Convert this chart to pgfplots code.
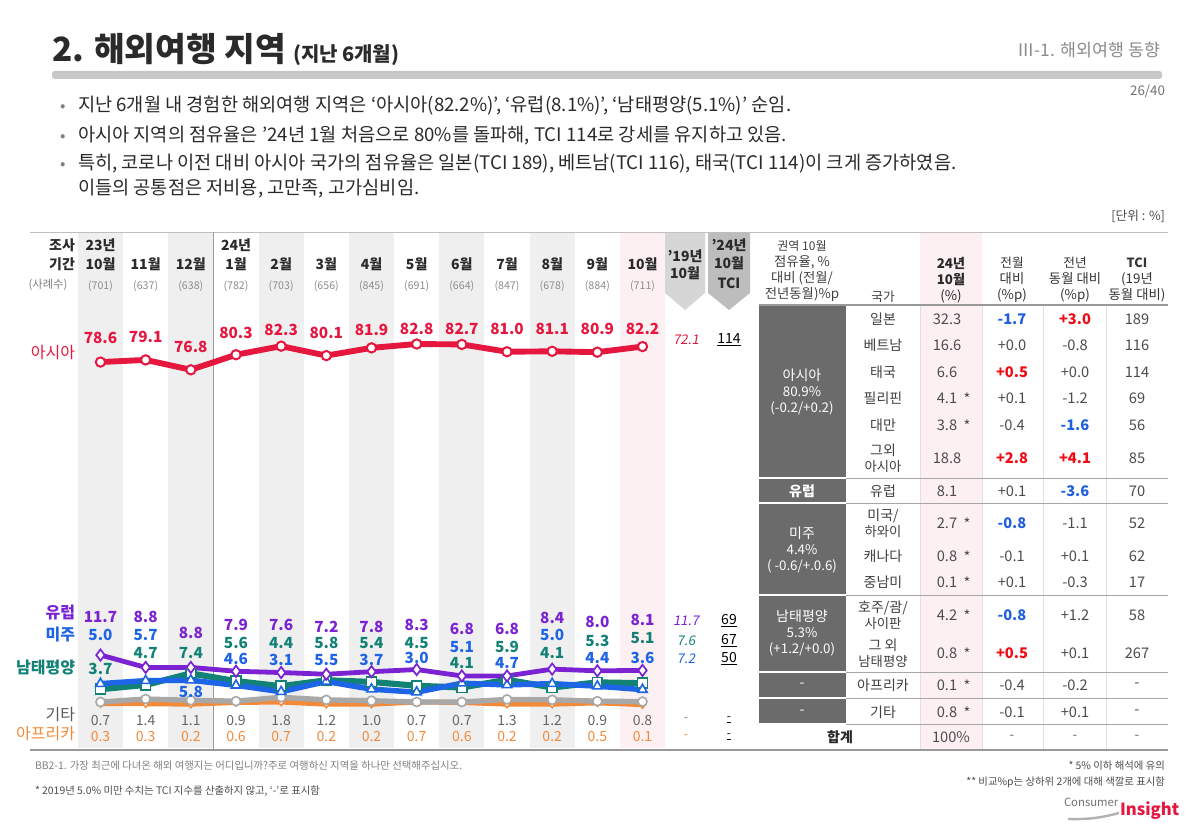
\documentclass[border=0pt]{standalone}
\usepackage{pgfplots}
\usepackage{pgfplotstable}
\pgfplotsset{compat=1.18}
\usepackage{fontspec}
\setmainfont{Noto Sans CJK KR}
\newfontfamily\itfont[FakeSlant=0.18]{Noto Sans CJK KR}
\definecolor{cRed}{HTML}{E5173F}
\definecolor{cP}{HTML}{7B22D3}
\definecolor{cB}{HTML}{1E64E6}
\definecolor{cT}{HTML}{138276}
\definecolor{cG}{HTML}{A8A8A8}
\definecolor{cO}{HTML}{F28A3A}
\definecolor{cTxt}{HTML}{2A2A2A}
\definecolor{cBand}{HTML}{EFEFEF}
\definecolor{cPink}{HTML}{FDF0F3}
\definecolor{cDark}{HTML}{6B6B6B}
\definecolor{tB}{HTML}{1F5FE0}
\definecolor{tR}{HTML}{F00A14}
\newcommand{\fs}[2]{\fontsize{#1}{#2}\selectfont}
\newcommand{\tb}[1]{\textcolor{tB}{\bfseries #1}}
\newcommand{\tr}[1]{\textcolor{tR}{\bfseries #1}}

\pgfplotstableread{
x asia eu am op etc af
0 78.6 11.7 5.0 3.7 0.7 0.3
1 79.1 8.8 5.7 4.7 1.4 0.3
2 76.8 8.8 5.8 7.4 1.1 0.2
3 80.3 7.9 4.6 5.6 0.9 0.6
4 82.3 7.6 3.1 4.4 1.8 0.7
5 80.1 7.2 5.5 5.8 1.2 0.2
6 81.9 7.8 3.7 5.4 1.0 0.2
7 82.8 8.3 3.0 4.5 0.7 0.7
8 82.7 6.8 5.1 4.1 0.7 0.6
9 81.0 6.8 4.7 5.9 1.3 0.2
10 81.1 8.4 5.0 4.1 1.2 0.2
11 80.9 8.0 4.4 5.3 0.9 0.5
12 82.2 8.1 3.6 5.1 0.8 0.1
}\regiondata

% table row: y, name, value, star, d1, d2, tci
\newcommand{\trow}[7]{%
  \node[align=center,text=black!75] at (883,#1) {\fs{10.5}{14}#2};
  \node[text=black!70] at (947,#1) {\fs{11}{13}#3};
  \node[text=black!70] at (967,#1+1) {\fs{11}{13}#4};
  \node[text=black!70] at (1012,#1) {\fs{11}{13}#5};
  \node[text=black!70] at (1075,#1) {\fs{11}{13}#6};
  \node[text=black!70] at (1137,#1) {\fs{11}{13}#7};
}

\begin{document}
\begin{tikzpicture}[x=0.75pt,y=-0.75pt,every node/.style={inner sep=0pt,outer sep=0pt,text=cTxt}]
\useasboundingbox (0,0) rectangle (1200,830);
\fill[white] (0,0) rectangle (1200,830);

% ---------- title ----------
\node[anchor=base west] at (52,62) {\fs{25}{29}\bfseries 2. 해외여행 지역};
\node[anchor=base west] at (293,62) {\fs{15}{18}\bfseries (지난 6개월)};
\node[anchor=base east,text=black!45] at (1160,57) {\fs{13}{15}Ⅲ-1. 해외여행 동향};
\fill[black!22,rounded corners=2pt] (52,71) rectangle (1162,79);
\node[anchor=base east,text=black!55] at (1165,96) {\fs{10}{12}26/40};

% ---------- bullets ----------
\foreach \yy in {112,142,170}
  \node[anchor=base west,text=black!50] at (60,\yy) {\fs{12}{14}•};
\node[anchor=base west] at (78,112) {\fs{14}{16}지난 6개월 내 경험한 해외여행 지역은 ‘아시아(82.2\%)’, ‘유럽(8.1\%)’, ‘남태평양(5.1\%)’ 순임.};
\node[anchor=base west] at (78,142) {\fs{14}{16}아시아 지역의 점유율은 ’24년 1월 처음으로 80\%를 돌파해, TCI 114로 강세를 유지하고 있음.};
\node[anchor=base west] at (78,170) {\fs{14}{16}특히, 코로나 이전 대비 아시아 국가의 점유율은 일본(TCI 189), 베트남(TCI 116), 태국(TCI 114)이 크게 증가하였음.};
\node[anchor=base west] at (78,195) {\fs{14}{16}이들의 공통점은 저비용, 고만족, 고가심비임.};

\node[anchor=base east,text=black!70] at (1165,221) {\fs{9.5}{11}[단위 : \%]};

% ---------- chart background ----------
\foreach \ii in {0,2,4,6,8,10}
  \fill[cBand] ({77.9+45.17*\ii},233) rectangle ({77.9+45.17*(\ii+1)},748);
\fill[cPink] (619.9,233) rectangle (665.1,748);
\draw[black!25] (30,232) -- (1168,232);
\draw[black!40] (213.4,232) -- (213.4,750);
\fill[black!16] (665,233) -- (705,233) -- (705,293) -- (685,310) -- (665,293) -- cycle;
\fill[black!26] (708,233) -- (750,233) -- (750,293) -- (729,310) -- (708,293) -- cycle;

% ---------- chart header ----------
\node at (62,245) {\fs{10.5}{12}\bfseries 조사};
\node at (62,264) {\fs{10.5}{12}\bfseries 기간};
\node[text=black!50] at (48,285) {\fs{8.5}{10}(사례수)};
\node at (100.5,245) {\fs{10.5}{12}\bfseries 23년};
\node at (236,245) {\fs{10.5}{12}\bfseries 24년};
\foreach \ii/\mm/\nn in {0/10/701,1/11/637,2/12/638,3/1/782,4/2/703,5/3/656,6/4/845,7/5/691,8/6/664,9/7/847,10/8/678,11/9/884,12/10/711}{
  \node at ({100.5+45.17*\ii},264) {\fs{10.5}{12}\bfseries \mm 월};
  \node[text=black!45] at ({100.5+45.17*\ii},286) {\fs{8}{10}(\nn)};
}
\node at (685,256) {\fs{10.5}{12}\bfseries ’19년};
\node at (685,273) {\fs{10.5}{12}\bfseries 10월};
\node at (729,245) {\fs{10.5}{12}\bfseries ’24년};
\node at (729,263) {\fs{10.5}{12}\bfseries 10월};
\node at (729,283) {\fs{10.5}{12}\bfseries TCI};

% ---------- Asia axis (placed in absolute pt: px*0.75) ----------
\begin{axis}[at={(58.425pt,-283.155pt)},anchor=south west,scale only axis,
  width=440.4pt,height=32.25pt,xmin=-0.5,xmax=12.5,ymin=75,ymax=85,
  hide axis,clip=false]
\addplot[cRed,line width=4.4pt,mark=*,mark size=3.5pt,
  mark options={fill=white,draw=cRed,line width=1.5pt}] table[x=x,y=asia] {\regiondata};
\end{axis}

% ---------- lower axis ----------
\begin{axis}[at={(58.425pt,-531.95pt)},anchor=south west,scale only axis,
  width=440.4pt,height=44.84pt,xmin=-0.5,xmax=12.5,ymin=-1,ymax=13,
  hide axis,clip=false]
\addplot[cO,line width=3.8pt,mark=diamond*,mark size=2.8pt,
  mark options={fill=white,draw=cO,line width=1pt}] table[x=x,y=af] {\regiondata};
\addplot[cG,line width=4pt,mark=*,mark size=3.4pt,
  mark options={fill=white,draw=cG,line width=1.2pt}] table[x=x,y=etc] {\regiondata};
\addplot[cT,line width=4.6pt,mark=square*,mark size=3.7pt,
  mark options={fill=white,draw=cT,line width=1.3pt}] table[x=x,y=op] {\regiondata};
\addplot[cB,line width=4.1pt,mark=triangle*,mark size=4pt,
  mark options={fill=white,draw=cB,line width=1.2pt}] table[x=x,y=am] {\regiondata};
\addplot[cP,line width=3.6pt,mark=diamond*,mark size=4.2pt,
  mark options={fill=white,draw=cP,line width=1.3pt}] table[x=x,y=eu] {\regiondata};
\end{axis}

% ---------- series labels ----------
\node[anchor=east,text=cRed] at (75,353) {\fs{12}{14}아시아};
\node[anchor=east,text=cP] at (75,613) {\fs{12}{14}\bfseries 유럽};
\node[anchor=east,text=cB] at (75,635) {\fs{12}{14}\bfseries 미주};
\node[anchor=east,text=cT] at (75,668) {\fs{12}{14}\bfseries 남태평양};
\node[anchor=east,text=black!65] at (75,715) {\fs{12}{14}기타};
\node[anchor=east,text=cO] at (75,734) {\fs{12}{14}아프리카};

% Asia value labels
\foreach \ii/\yy/\vv in {0/338/78.6,1/337/79.1,2/347/76.8,3/333/80.3,4/330/82.3,5/333/80.1,6/330/81.9,7/329/82.8,8/329/82.7,9/329/81.0,10/329/81.1,11/329/80.9,12/329/82.2}
  \node[text=cRed] at ({100.5+45.17*\ii},\yy) {\fs{11.5}{13}\bfseries\vv};

% lower value labels
\foreach \ii/\yy/\vv/\cc in {0/617/11.7/cP,0/635/5.0/cB,0/669/3.7/cT,1/617/8.8/cP,1/635/5.7/cB,1/653/4.7/cT,2/633/8.8/cP,2/653/7.4/cT,2/692/5.8/cB,3/625/7.9/cP,3/643/5.6/cT,3/659/4.6/cB,4/625/7.6/cP,4/643/4.4/cT,4/660/3.1/cB,5/627/7.2/cP,5/643/5.8/cT,5/660/5.5/cB,6/627/7.8/cP,6/643/5.4/cT,6/660/3.7/cB,7/625/8.3/cP,7/643/4.5/cT,7/658/3.0/cB,8/629/6.8/cP,8/647/5.1/cB,8/663/4.1/cT,9/629/6.8/cP,9/647/5.9/cT,9/663/4.7/cB,10/618/8.4/cP,10/635/5.0/cB,10/653/4.1/cT,11/622/8.0/cP,11/641/5.3/cT,11/658/4.4/cB,12/620/8.1/cP,12/638/5.1/cT,12/658/3.6/cB}
  \node[text=\cc] at ({100.5+45.17*\ii},\yy) {\fs{11.5}{13}\bfseries\vv};

\foreach \ii/\aa/\bb in {0/0.7/0.3,1/1.4/0.3,2/1.1/0.2,3/0.9/0.6,4/1.8/0.7,5/1.2/0.2,6/1.0/0.2,7/0.7/0.7,8/0.7/0.6,9/1.3/0.2,10/1.2/0.2,11/0.9/0.5,12/0.8/0.1}{
  \node[text=black!60] at ({100.5+45.17*\ii},721) {\fs{10.5}{12}\aa};
  \node[text=cO] at ({100.5+45.17*\ii},737) {\fs{10.5}{12}\bb};
}

% '19 and TCI columns
\node[text=cRed] at (686,340) {\fs{10}{12}\itfont 72.1};
\node[text=black] at (729,340) {\fs{10.5}{12}\underline{114}};
\node[text=cP] at (686,621) {\fs{10}{12}\itfont 11.7};
\node[text=cT] at (686,641) {\fs{10}{12}\itfont 7.6};
\node[text=cB] at (686,659) {\fs{10}{12}\itfont 7.2};
\node[text=black] at (729,621) {\fs{10.5}{12}\underline{69}};
\node[text=black] at (729,641) {\fs{10.5}{12}\underline{67}};
\node[text=black] at (729,659) {\fs{10.5}{12}\underline{50}};
\node[text=black!50] at (686,720) {\fs{9}{10}-};
\node[text=cO] at (686,737) {\fs{9}{10}-};
\node[text=black] at (729,720) {\fs{9}{10}\underline{-}};
\node[text=black] at (729,737) {\fs{9}{10}\underline{-}};

% ---------- table ----------
\fill[cPink] (920,233) rectangle (982,749);
\foreach \xx in {920,982,1043,1106} \draw[black!12] (\xx,306) -- (\xx,749);
\draw[black!40,line width=1pt] (759,305) -- (1168,305);
\foreach \yy in {478,503,595,672,698,724} \draw[black!35] (846,\yy) -- (1168,\yy);
\fill[cDark] (759,306) rectangle (846,477);
\fill[cDark] (759,479) rectangle (846,502);
\fill[cDark] (759,504) rectangle (846,594);
\fill[cDark] (759,596) rectangle (846,671);
\fill[cDark] (759,673) rectangle (846,697);
\fill[cDark] (759,699) rectangle (846,723);

% header
\node[align=center,text=black!75] at (802,271) {\fs{9}{12.8}권역 10월\\점유율, \%\\대비 (전월/\\전년동월)\%p};
\node[text=black!75] at (883,297) {\fs{9.5}{11}국가};
\node[align=center] at (951,280) {\fs{10}{12.8}\bfseries 24년\\\bfseries 10월\\\mdseries (\%)};
\node[align=center,text=black!80] at (1012,280) {\fs{9.5}{12.8}전월\\대비\\(\%p)};
\node[align=center,text=black!80] at (1075,280) {\fs{9.5}{12.8}전년\\동월 대비\\(\%p)};
\node[align=center,text=black!80] at (1137,280) {\fs{9.5}{12.8}\bfseries TCI\\\mdseries (19년\\동월 대비)};

% group labels
\node[align=center,text=white] at (802,392) {\fs{10.5}{14.2}아시아\\80.9\%\\(-0.2/+0.2)};
\node[text=white] at (802,491) {\fs{10.5}{12}\bfseries 유럽};
\node[align=center,text=white] at (802,550) {\fs{10.5}{14.2}미주\\4.4\%\\( -0.6/+.0.6)};
\node[align=center,text=white] at (802,633) {\fs{10.5}{14}남태평양\\5.3\%\\(+1.2/+0.0)};
\node[text=white] at (802,685) {\fs{10.5}{12}-};
\node[text=white] at (802,712) {\fs{10.5}{12}-};

% rows
\trow{319}{일본}{32.3}{}{\tb{-1.7}}{\tr{+3.0}}{189}
\trow{345}{베트남}{16.6}{}{+0.0}{-0.8}{116}
\trow{372}{태국}{6.6}{}{\tr{+0.5}}{+0.0}{114}
\trow{398}{필리핀}{4.1}{*}{+0.1}{-1.2}{69}
\trow{425}{대만}{3.8}{*}{-0.4}{\tb{-1.6}}{56}
\trow{458}{그외\\아시아}{18.8}{}{\tr{+2.8}}{\tr{+4.1}}{85}
\trow{491}{유럽}{8.1}{}{+0.1}{\tb{-3.6}}{70}
\trow{523}{미국/\\하와이}{2.7}{*}{\tb{-0.8}}{-1.1}{52}
\trow{556}{캐나다}{0.8}{*}{-0.1}{+0.1}{62}
\trow{582}{중남미}{0.1}{*}{+0.1}{-0.3}{17}
\trow{615}{호주/괌/\\사이판}{4.2}{*}{\tb{-0.8}}{+1.2}{58}
\trow{653}{그 외\\남태평양}{0.8}{*}{\tr{+0.5}}{+0.1}{267}
\trow{685}{아프리카}{0.1}{*}{-0.4}{-0.2}{-}
\trow{712}{기타}{0.8}{*}{-0.1}{+0.1}{-}
\node at (840,737) {\fs{10.5}{12}\bfseries 합계};
\node[text=black!70] at (951,737) {\fs{11}{13}100\%};
\node[text=black!60] at (1012,737) {\fs{10}{12}-};
\node[text=black!60] at (1075,737) {\fs{10}{12}-};
\node[text=black!60] at (1137,737) {\fs{10}{12}-};

\draw[black!40,line width=0.8pt] (30,750) -- (1168,750);

% ---------- footnotes ----------
\node[anchor=base west,text=black!50] at (35,769) {\fs{7.8}{9}BB2-1. 가장 최근에 다녀온 해외 여행지는 어디입니까?주로 여행하신 지역을 하나만 선택해주십시오.};
\node[anchor=base west,text=black!70] at (35,794) {\fs{7.8}{9}* 2019년 5.0\% 미만 수치는 TCI 지수를 산출하지 않고, ‘-’로 표시함};
\node[anchor=base east,text=black!70] at (1165,769) {\fs{7.8}{9}* 5\% 이하 해석에 유의};
\node[anchor=base east,text=black!70] at (1165,785) {\fs{7.8}{9}** 비교\%p는 상하위 2개에 대해 색깔로 표시함};
\node[anchor=base west,text=black!55] at (1064,806) {\fs{8.5}{10}Consumer};
\node[anchor=base west,text=cRed] at (1120,815) {\fs{12.5}{15}\bfseries Insight};
\draw[black!30,line width=1.8pt] (1068,819) to[bend right=8] (1119,813);
\end{tikzpicture}
\end{document}
